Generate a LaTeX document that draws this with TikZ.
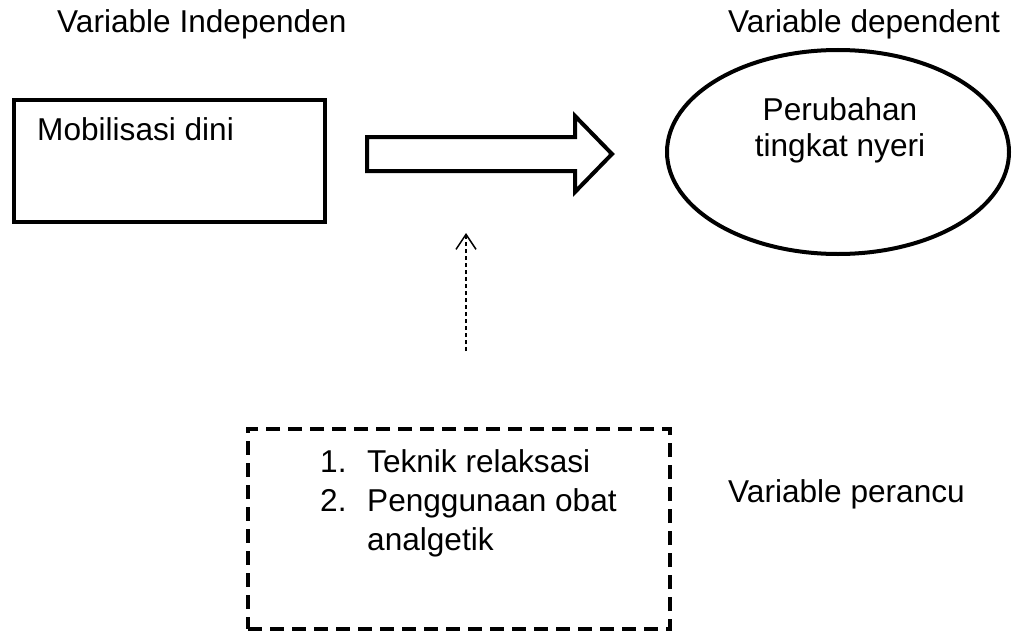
\documentclass[tikz,border=0pt]{standalone}
\usepackage{fontspec}
\setmainfont{Liberation Sans}
\usetikzlibrary{shapes.geometric,arrows.meta}
\begin{document}
\begin{tikzpicture}[x=1pt,y=-1pt,
  lbl/.style={inner sep=0pt,anchor=base west,font=\fontsize{31.6}{38}\selectfont},
  thickbox/.style={draw,line width=4pt,miter limit=10},
  dashbox/.style={draw,line width=4.5pt,dash pattern=on 14pt off 8pt},
  dotline/.style={line width=1.4pt,dash pattern=on 4pt off 3pt,
    -{Straight Barb[length=15pt,width=20pt,line width=1.5pt]}}]
\useasboundingbox (0,0) rectangle (1014,634);
% titles
\node[lbl] (tin) at (57,33) {Variable Independen};
\node[lbl] (tdep) at (728,33) {Variable dependent};
\node[lbl] (tper) at (728,502) {Variable perancu};
% independent box
\node[thickbox,minimum width=311pt,minimum height=122pt,inner sep=0pt] (mob) at (169.5,161) {};
\node[lbl] (mobt) at (37,140) {Mobilisasi dini};
% dependent ellipse
\node[thickbox,ellipse,minimum width=342pt,minimum height=204pt,inner sep=0pt] (dep) at (838,152) {};
\node[lbl,anchor=base] (dep1) at (840,120) {Perubahan};
\node[lbl,anchor=base] (dep2) at (840,156) {tingkat nyeri};
% big block arrow
\draw[line width=4pt,miter limit=10,line join=miter]
  (367,137) -- (575,137) -- (575,116) -- (612,154) -- (575,192) -- (575,171) -- (367,171) -- cycle;
% dotted arrow
\coordinate (d1) at (466,351);
\coordinate (d2) at (466,233);
\draw[dotline] (d1) -- (d2);
% confounder box
\node[dashbox,minimum width=422pt,minimum height=200pt,inner sep=0pt] (conf) at (459,529) {};
\node[lbl] (n1) at (320,472) {1.};
\node[lbl] (c1) at (367,472) {Teknik relaksasi};
\node[lbl] (n2) at (320,511) {2.};
\node[lbl] (c2) at (367,511) {Penggunaan obat};
\node[lbl] (c3) at (367,550) {analgetik};
\end{tikzpicture}
\end{document}
